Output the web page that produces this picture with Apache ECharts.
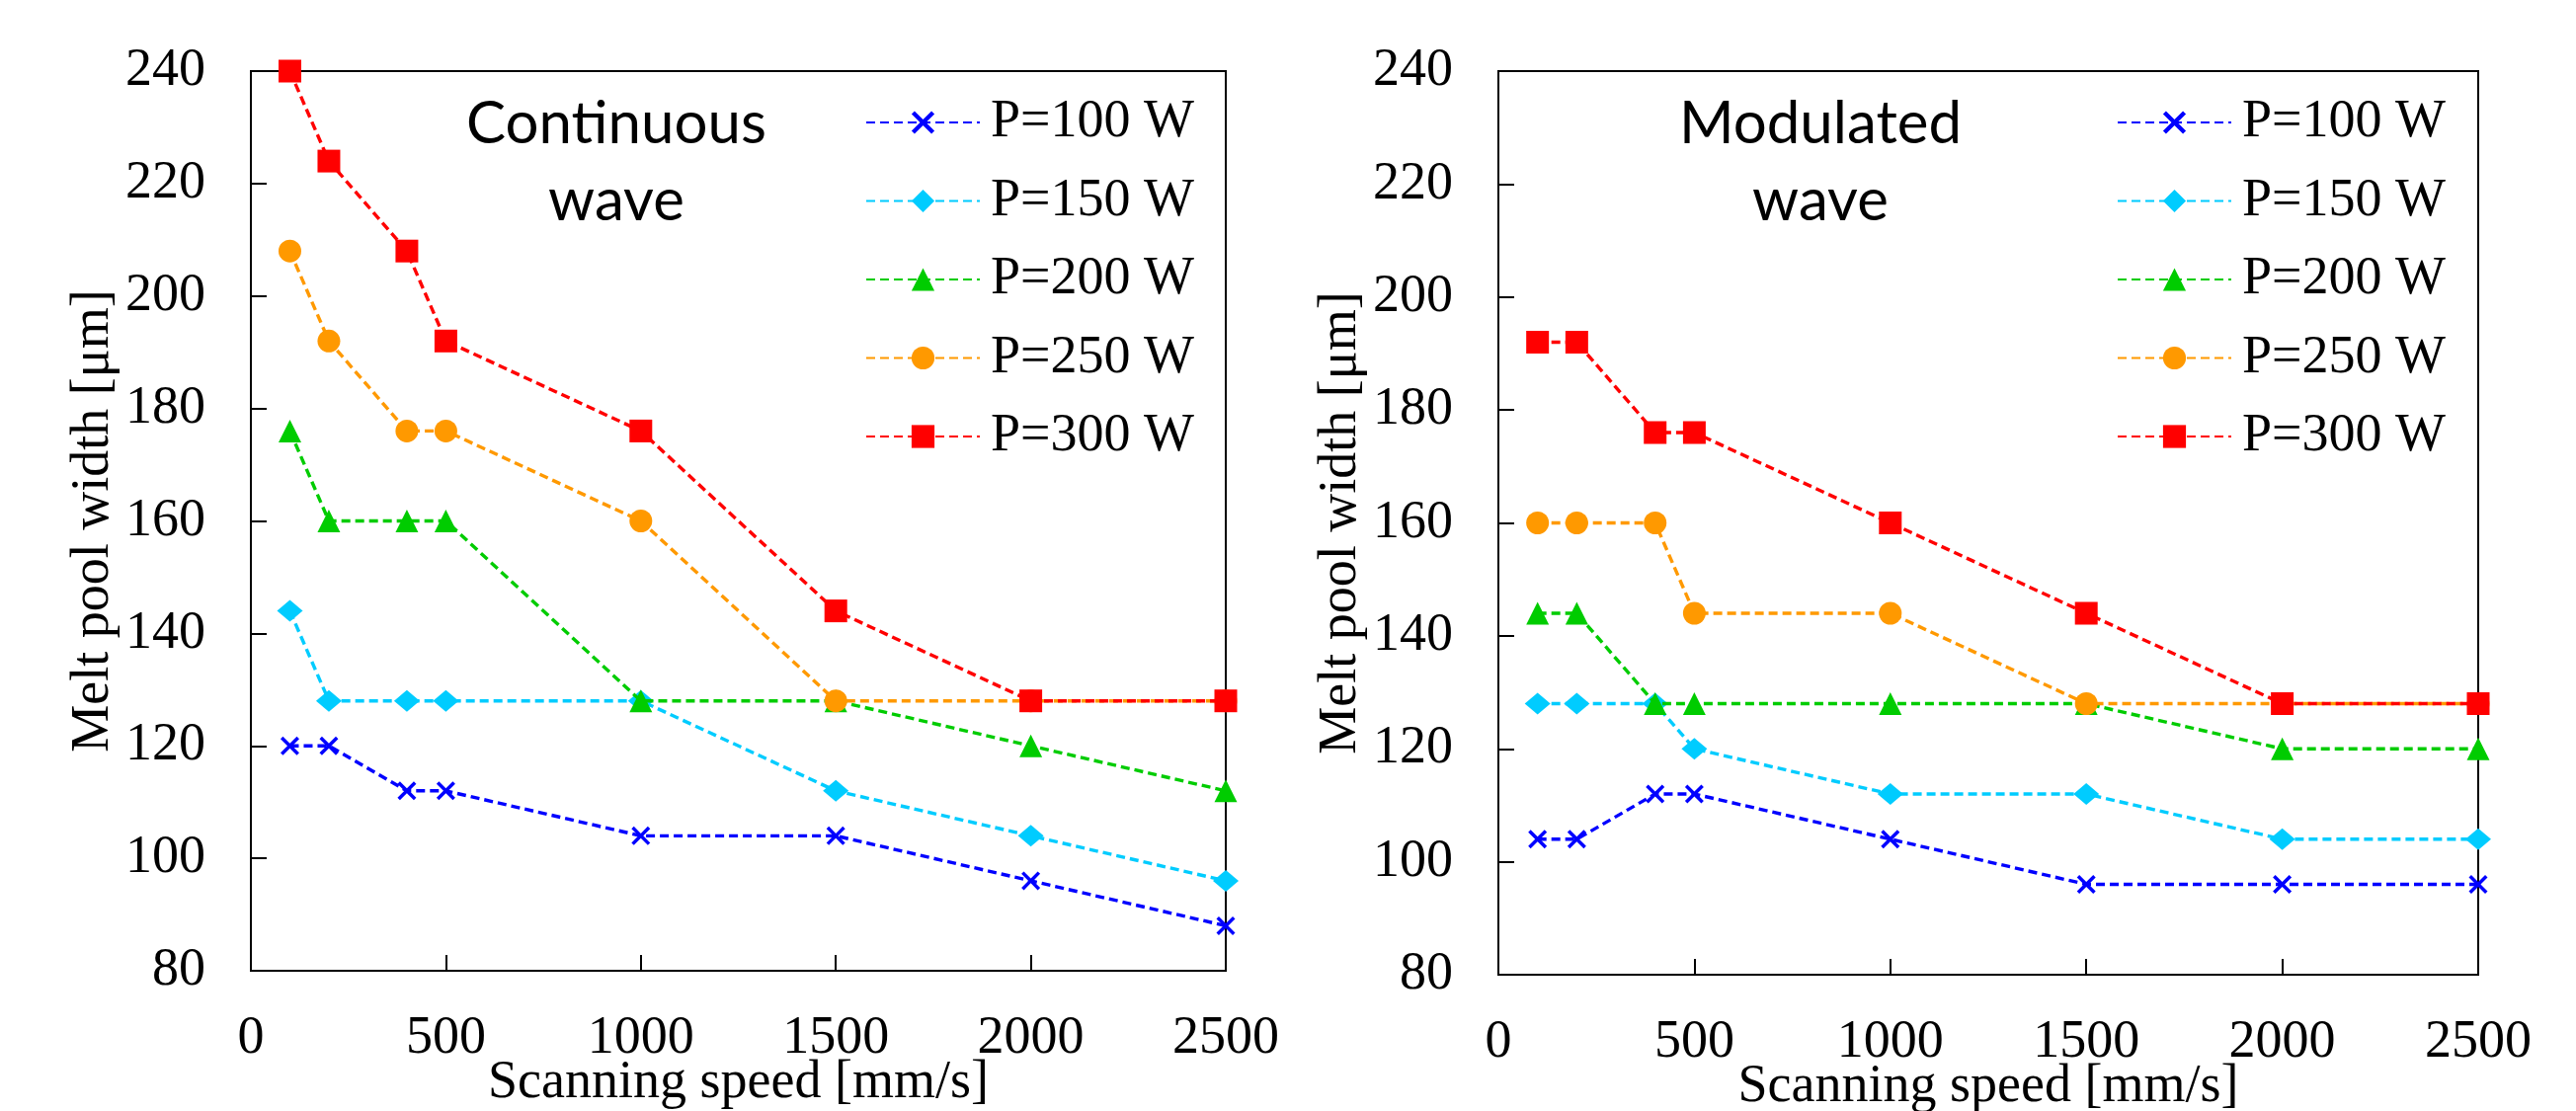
<!DOCTYPE html>
<html>
<head>
<meta charset="utf-8">
<script src="https://cdn.jsdelivr.net/npm/echarts@6/dist/echarts.min.js"></script>
<style>
  html, body { margin: 0; padding: 0; background: #fff; }
  #chart { width: 2608px; height: 1125px; }
</style>
</head>
<body>
<div id="chart"></div>
<script>
// scanning speeds [mm/s]
var speeds = [100, 200, 400, 500, 1000, 1500, 2000, 2500];
var powerNames = ['P=100 W', 'P=150 W', 'P=200 W', 'P=250 W', 'P=300 W'];

// continuous wave, melt pool width [um]
var cwP100 = [120, 120, 112, 112, 104, 104, 96, 88];
var cwP150 = [144, 128, 128, 128, 128, 112, 104, 96];
var cwP200 = [176, 160, 160, 160, 128, 128, 120, 112];
var cwP250 = [208, 192, 176, 176, 160, 128, 128, 128];
var cwP300 = [240, 224, 208, 192, 176, 144, 128, 128];

// modulated wave, melt pool width [um]
var mwP100 = [104, 104, 112, 112, 104, 96, 96, 96];
var mwP150 = [128, 128, 128, 120, 112, 112, 104, 104];
var mwP200 = [144, 144, 128, 128, 128, 128, 120, 120];
var mwP250 = [160, 160, 160, 144, 144, 128, 128, 128];
var mwP300 = [192, 192, 176, 176, 160, 144, 128, 128];

var colors = ['#0000ff', '#00ccff', '#00cc00', '#ff9900', '#ff0000'];
var crossPath = 'path://M0,1.3 L1.3,0 L5,3.7 L8.7,0 L10,1.3 L6.3,5 L10,8.7 L8.7,10 L5,6.3 L1.3,10 L0,8.7 L3.7,5 Z';
var symbols = [crossPath, 'diamond', 'triangle', 'circle', 'rect'];
var symbolSizes = [19, [26, 22], 23, 23, 23];

var serif = 'Liberation Serif';

function pairs(vals) {
  return speeds.map(function (s, i) { return [s, vals[i]]; });
}

function makeSeries(sets, gridIdx) {
  return sets.map(function (vals, i) {
    return {
      name: powerNames[i],
      type: 'line',
      xAxisIndex: gridIdx,
      yAxisIndex: gridIdx,
      data: pairs(vals),
      symbol: symbols[i],
      symbolSize: symbolSizes[i],
      showAllSymbol: true,
      clip: false,
      color: colors[i],
      lineStyle: { color: colors[i], width: 3.4, type: [9, 5] },
      itemStyle: { color: colors[i] },
      z: 3 + i
    };
  });
}

function xAxis(gridIdx) {
  return {
    type: 'value', gridIndex: gridIdx,
    min: 0, max: 2500, interval: 500,
    name: 'Scanning speed [mm/s]', nameLocation: 'middle', nameGap: 87, nameMoveOverlap: false,
    nameTextStyle: { fontFamily: serif, fontSize: 54, color: '#000' },
    axisLine: { show: true, lineStyle: { color: '#000', width: 2 } },
    axisTick: { show: true, inside: true, length: 16, lineStyle: { color: '#000', width: 2 } },
    axisLabel: { fontFamily: serif, fontSize: 54, color: '#000', margin: 42,
      formatter: function (v) { return String(v); } },
    splitLine: { show: false }
  };
}

function yAxis(gridIdx) {
  return {
    type: 'value', gridIndex: gridIdx,
    min: 80, max: 240, interval: 20,
    name: 'Melt pool width [\u03bcm]', nameLocation: 'middle', nameGap: 132, nameMoveOverlap: false,
    nameTextStyle: { fontFamily: serif, fontSize: 54, color: '#000' },
    axisLine: { show: true, lineStyle: { color: '#000', width: 2 } },
    axisTick: { show: true, inside: true, length: 16, lineStyle: { color: '#000', width: 2 } },
    axisLabel: { fontFamily: serif, fontSize: 54, color: '#000', margin: 46,
      formatter: function (v) { return String(v); } },
    splitLine: { show: false }
  };
}

function legend(left) {
  return {
    left: left, top: 92, orient: 'vertical',
    itemWidth: 115, itemHeight: 29, itemGap: 25.5,
    selectedMode: false,
    data: powerNames,
    textStyle: { fontFamily: serif, fontSize: 54, color: '#000', padding: [0, 0, 0, 6] }
  };
}

var chart = echarts.init(document.getElementById('chart'), null, { renderer: 'canvas' });
chart.setOption({
  animation: false,
  backgroundColor: '#fff',
  title: [
    { text: 'Continuous\nwave', left: 619, top: 82, textAlign: 'center',
      textStyle: { fontFamily: 'Lato', fontWeight: 'normal', fontSize: 60, lineHeight: 78, color: '#000' } },
    { text: 'Modulated\nwave', left: 1838, top: 82, textAlign: 'center',
      textStyle: { fontFamily: 'Lato', fontWeight: 'normal', fontSize: 60, lineHeight: 78, color: '#000' } }
  ],
  legend: [legend(871), legend(2138)],
  grid: [
    { left: 254, top: 72, width: 987, height: 911, outerBoundsMode: 'none', containLabel: false,
      show: true, borderColor: '#000', borderWidth: 2, backgroundColor: 'transparent' },
    { left: 1517, top: 72, width: 992, height: 915, outerBoundsMode: 'none', containLabel: false,
      show: true, borderColor: '#000', borderWidth: 2, backgroundColor: 'transparent' }
  ],
  xAxis: [xAxis(0), xAxis(1)],
  yAxis: [yAxis(0), yAxis(1)],
  series: makeSeries([cwP100, cwP150, cwP200, cwP250, cwP300], 0)
    .concat(makeSeries([mwP100, mwP150, mwP200, mwP250, mwP300], 1))
});
</script>
</body>
</html>
